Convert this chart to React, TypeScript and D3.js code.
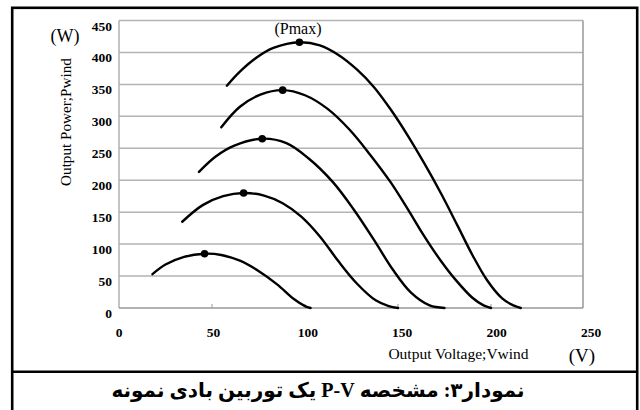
import React from "react";
import * as d3 from "d3";

// Output voltage (V) and output power (W) for five wind speeds
const voltage1 = [18, 25, 35, 46, 55, 65, 75, 85, 94, 100, 103];
const power1 = [53, 68, 80, 85, 83, 74, 58, 37, 14, 3, 0];

const voltage2 = [34, 45, 56, 67, 78, 88, 98, 108, 118, 128, 138, 145, 150];
const power2 = [135, 161, 175, 180, 176, 164, 143, 112, 73, 38, 12, 3, 0];

const voltage3 = [43, 52, 62, 77, 90, 102, 115, 126, 137, 147, 157, 167, 175];
const power3 = [213, 237, 254, 265, 258, 234, 197, 155, 107, 61, 24, 4, 0];

const voltage4 = [55, 65, 76, 88, 100, 112, 124, 135, 146, 155, 164, 173, 181, 190, 196, 200];
const power4 = [283, 315, 334, 341, 333, 312, 279, 240, 197, 156, 113, 74, 44, 16, 4, 0];

const voltage5 = [58, 65, 74, 83, 97, 108, 118, 128, 137, 146, 155, 164, 173, 182, 190, 198, 206, 212, 216];
const power5 = [348, 370, 392, 407, 416, 411, 396, 373, 346, 311, 271, 227, 180, 129, 83, 43, 15, 4, 0];

const seriesVoltages = [voltage1, voltage2, voltage3, voltage4, voltage5];
const seriesPowers = [power1, power2, power3, power4, power5];

const yTicks = [0, 50, 100, 150, 200, 250, 300, 350, 400, 450];
const xTicks = [0, 50, 100, 150, 200, 250];
const xMinorTicks = [50, 100, 150, 200];

const xLabel = "Output Voltage;Vwind";
const yLabel = "Output Power;Pwind";
const xUnit = "(V)";
const yUnit = "(W)";
const peakLabel = "(Pmax)";
const caption = "نمودار۳: مشخصه P-V یک توربین بادی نمونه";

export default function App() {
  const W = 640;
  const H = 410;
  const x = d3.scaleLinear().domain([0, 250]).range([119, 584]);
  const xLab = d3.scaleLinear().domain([0, 250]).range([119, 591]);
  const y = d3.scaleLinear().domain([0, 450]).range([308, 20.5]);

  const line = d3
    .line<[number, number]>()
    .x((d) => x(d[0]))
    .y((d) => y(d[1]))
    .curve(d3.curveCatmullRom.alpha(0.5));

  const serif = "'Liberation Serif', 'Times New Roman', serif";

  return (
    <div style={{ position: "absolute", left: 0, top: 0 }}>
      <svg width={W} height={H} style={{ display: "block" }}>
        <rect x={0} y={0} width={W} height={H} fill="#fff" />
        {yTicks.slice(1).map((t) => (
          <line
            key={"g" + t}
            x1={x(0)}
            x2={583}
            y1={y(t)}
            y2={y(t)}
            stroke="#b3b3b3"
            strokeWidth={1.5}
          />
        ))}
        <line x1={x(0)} x2={x(0)} y1={y(450)} y2={y(0)} stroke="#b0b0b0" strokeWidth={1.5} />
        <line x1={583} x2={583} y1={y(450)} y2={y(0)} stroke="#999" strokeWidth={1.5} />
        <line x1={x(0)} x2={583} y1={y(0)} y2={y(0)} stroke="#999" strokeWidth={1.5} />
        {xMinorTicks.map((t) => (
          <line key={"mt" + t} x1={x(t)} x2={x(t)} y1={y(0)} y2={y(0) - 4} stroke="#999" strokeWidth={1} />
        ))}
        {yTicks.map((t) => (
          <text
            key={"yl" + t}
            x={112}
            y={y(t) + 10}
            textAnchor="end"
            fontFamily={serif}
            fontWeight="bold"
            fontSize={13.5}
            fill="#000"
          >
            {t}
          </text>
        ))}
        {xTicks.map((t) => (
          <text
            key={"xl" + t}
            x={xLab(t)}
            y={337}
            textAnchor="middle"
            fontFamily={serif}
            fontWeight="bold"
            fontSize={13.5}
            fill="#000"
          >
            {t}
          </text>
        ))}
        {seriesVoltages.map((vs, i) => {
          const pts: [number, number][] = vs.map((v, j) => [v, seriesPowers[i][j]]);
          const peak = pts.reduce((a, b) => (b[1] > a[1] ? b : a));
          return (
            <g key={"s" + i}>
              <path d={line(pts) || ""} fill="none" stroke="#000" strokeWidth={2.4} strokeLinecap="round" />
              <circle cx={x(peak[0])} cy={y(peak[1])} r={3.8} fill="#000" />
            </g>
          );
        })}
        <text x={298} y={33.5} textAnchor="middle" fontFamily={serif} fontSize={16} fill="#000">
          {peakLabel}
        </text>
        <text x={65} y={42} textAnchor="middle" fontFamily={serif} fontSize={18} fill="#000">
          {yUnit}
        </text>
        <text
          transform={`translate(70.5,122) rotate(-90)`}
          textAnchor="middle"
          fontFamily={serif}
          fontSize={15.2}
          fill="#000"
        >
          {yLabel}
        </text>
        <text x={458.5} y={358.5} textAnchor="middle" fontFamily={serif} fontSize={15.5} fill="#000">
          {xLabel}
        </text>
        <text x={582} y={361.5} textAnchor="middle" fontFamily={serif} fontSize={19} fill="#000">
          {xUnit}
        </text>
        <rect x={12.2} y={7.8} width={625} height={420} fill="none" stroke="#000" strokeWidth={2.6} />
        <line x1={12.2} x2={637.2} y1={371.7} y2={371.7} stroke="#000" strokeWidth={2.4} />
        <text
          x={318}
          y={396.5}
          textAnchor="middle"
          direction="rtl"
          fontFamily="'Liberation Serif', 'DejaVu Sans', serif"
          fontWeight="bold"
          fontSize={20}
          fill="#000"
        >
          {caption}
        </text>
      </svg>
    </div>
  );
}
